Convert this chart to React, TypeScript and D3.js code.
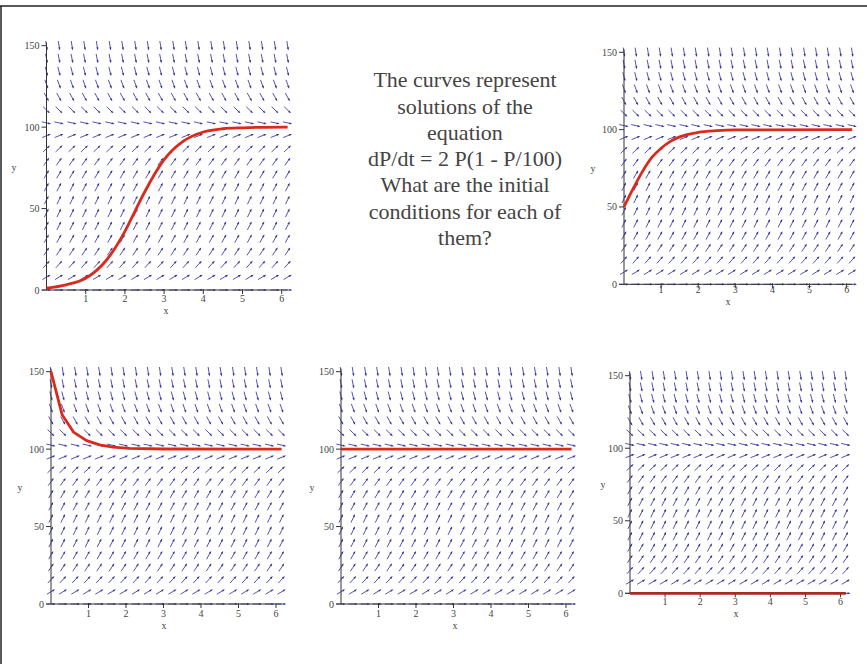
import React, { useEffect, useRef } from 'react';
import * as d3 from 'd3';

const W = 867;
const H = 664;

// direction field: grid columns (t), grid rows (P) and the slope dP/dt on each row
const fieldT = [0, 0.32, 0.65, 0.97, 1.29, 1.62, 1.94, 2.27, 2.59, 2.91, 3.24, 3.56, 3.88, 4.21, 4.53, 4.86, 5.18, 5.5, 5.83, 6.15];
const fieldP = [0, 7.9, 15.8, 23.7, 31.6, 39.5, 47.4, 55.3, 63.2, 71.1, 78.9, 86.8, 94.7, 102.6, 110.5, 118.4, 126.3, 134.2, 142.1, 150];
const rowSlope = [0, 14.5, 26.6, 36.2, 43.2, 47.8, 49.9, 49.4, 46.5, 41.1, 33.2, 22.9, 10.0, -5.4, -23.3, -43.6, -66.5, -91.8, -119.7, -150];

const xTicks = [1, 2, 3, 4, 5, 6];
const yTicks = [0, 50, 100, 150];

// solution curves
const curveA_t = [0, 0.5, 1, 1.5, 2, 2.25, 2.5, 3, 3.5, 4, 4.5, 5, 5.5, 6.15];
const curveA_P = [1.2, 3.2, 7.2, 17.5, 36, 48, 60, 80, 91.5, 97, 99, 99.6, 99.9, 100];

const curveB_t = [0, 0.25, 0.5, 0.75, 1, 1.25, 1.5, 2, 2.5, 3, 6.15];
const curveB_P = [50, 62, 73, 82, 88, 92.4, 95.3, 98.2, 99.3, 99.8, 100];

const curveC_t = [0, 0.3, 0.6, 0.95, 1.3, 1.65, 2.1, 3, 6.15];
const curveC_P = [150, 122, 111, 105.5, 102.8, 101.3, 100.5, 100.1, 100];

const curveD_t = [0, 6.15];
const curveD_P = [100, 100];

const curveE_t = [0, 6.15];
const curveE_P = [0, 0];

const textLines = [
  'The curves represent',
  'solutions of the',
  'equation',
  'dP/dt = 2 P(1 - P/100)',
  'What are the initial',
  'conditions for each of',
  'them?',
];

const panels = [
  { xr: [46.5, 287.6], yr: [290, 45.7], t: curveA_t, P: curveA_P, curve: d3.curveMonotoneX, color: '#d92a1c', yLabX: 14, xLabX: 166, tickOff: 11.5 },
  { xr: [624, 852.2], yr: [284.3, 52.3], t: curveB_t, P: curveB_P, curve: d3.curveMonotoneX, color: '#d92a1c', yLabX: 593, xLabX: 728, tickOff: 9 },
  { xr: [51, 281.6], yr: [604, 371.7], t: curveC_t, P: curveC_P, curve: d3.curveLinear, color: '#d92a1c', yLabX: 20, xLabX: 164, tickOff: 12.5 },
  { xr: [341, 571.6], yr: [604, 371.7], t: curveD_t, P: curveD_P, curve: d3.curveLinear, color: '#d92a1c', yLabX: 312, xLabX: 455, tickOff: 12.5 },
  { xr: [630, 845.8], yr: [593.3, 375.7], t: curveE_t, P: curveE_P, curve: d3.curveLinear, color: '#a82a20', yLabX: 603, xLabX: 736, tickOff: 11.5 },
];

const App = () => {
  const svgRef = useRef<SVGSVGElement>(null);

  useEffect(() => {
    const svg = d3.select(svgRef.current);
    svg.selectAll('*').remove();

    // slide frame
    svg.append('line').attr('x1', 0).attr('x2', W).attr('y1', 6).attr('y2', 6)
      .attr('stroke', '#222').attr('stroke-width', 1.5);
    svg.append('line').attr('x1', 1).attr('x2', 1).attr('y1', 6).attr('y2', H)
      .attr('stroke', '#222').attr('stroke-width', 1.5);

    panels.forEach((p) => {
      const x = d3.scaleLinear().domain([0, 6.15]).range(p.xr);
      const y = d3.scaleLinear().domain([0, 150]).range(p.yr);
      const g = svg.append('g');
      const ux = x(1) - x(0);
      const uy = y(0) - y(1);
      const L = 9.5;

      // direction field arrows
      const field = g.append('g');
      fieldP.forEach((P, i) => {
        let dx = ux;
        let dy = -rowSlope[i] * uy;
        const n = Math.hypot(dx, dy);
        dx = (dx / n) * L;
        dy = (dy / n) * L;
        const ex = dx / L;
        const ey = dy / L;
        fieldT.forEach((t) => {
          const cx = x(t);
          const cy = y(P);
          const tx = cx + dx / 2;
          const ty = cy + dy / 2;
          field.append('line')
            .attr('x1', cx - dx / 2).attr('y1', cy - dy / 2)
            .attr('x2', tx - ex * 1.5).attr('y2', ty - ey * 1.5)
            .attr('stroke', '#4040a8').attr('stroke-width', 0.9);
          const bx = tx - ex * 3;
          const by = ty - ey * 3;
          field.append('path')
            .attr('d', `M${tx},${ty}L${bx - ey * 1.1},${by + ex * 1.1}L${bx + ey * 1.1},${by - ex * 1.1}Z`)
            .attr('fill', '#34349c');
        });
      });

      // axes
      g.append('line').attr('x1', x(0)).attr('x2', x(0)).attr('y1', y(0)).attr('y2', y(152))
        .attr('stroke', '#333').attr('stroke-width', 1);
      g.append('line').attr('x1', x(0)).attr('x2', x(6.15)).attr('y1', y(0)).attr('y2', y(0))
        .attr('stroke', '#333').attr('stroke-width', 1);

      yTicks.forEach((v) => {
        g.append('line').attr('x1', x(0) - 5).attr('x2', x(0)).attr('y1', y(v)).attr('y2', y(v))
          .attr('stroke', '#333');
        g.append('text').attr('x', x(0) - 7).attr('y', y(v)).attr('dy', '0.35em')
          .attr('text-anchor', 'end').style('font-family', 'Liberation Serif, serif')
          .style('font-size', '10px').style('fill', '#444').text(v);
      });
      xTicks.forEach((v) => {
        g.append('line').attr('x1', x(v)).attr('x2', x(v)).attr('y1', y(0) - 1).attr('y2', y(0) + 4)
          .attr('stroke', '#333');
        g.append('text').attr('x', x(v)).attr('y', y(0) + p.tickOff)
          .attr('text-anchor', 'middle').style('font-family', 'Liberation Serif, serif')
          .style('font-size', '10px').style('fill', '#444').text(v);
      });

      g.append('text').attr('x', p.yLabX).attr('y', (y(0) + y(150)) / 2).attr('dy', '0.35em')
        .attr('text-anchor', 'middle').style('font-family', 'Liberation Serif, serif')
        .style('font-size', '10px').style('fill', '#444').text('y');
      g.append('text').attr('x', p.xLabX).attr('y', y(0) + p.tickOff + 12)
        .attr('text-anchor', 'middle').style('font-family', 'Liberation Serif, serif')
        .style('font-size', '10px').style('fill', '#444').text('x');

      // solution curve
      const pts = p.t.map((t, i) => [t, p.P[i]] as [number, number]);
      const line = d3.line<[number, number]>()
        .x((d) => x(d[0]))
        .y((d) => y(d[1]))
        .curve(p.curve);
      g.append('path').attr('d', line(pts))
        .attr('fill', 'none').attr('stroke', p.color).attr('stroke-width', 2.8)
        .attr('stroke-linejoin', 'round');
    });

    // question text
    const baselines = [86.5, 113.5, 140, 166, 192, 218.5, 245];
    svg.append('g').selectAll('text').data(textLines).enter().append('text')
      .attr('x', 465)
      .attr('y', (d, i) => baselines[i])
      .attr('text-anchor', 'middle')
      .style('font-family', 'Liberation Serif, serif')
      .style('font-size', '22px')
      .style('fill', '#444')
      .text((d) => d);
  }, []);

  return (
    <svg
      ref={svgRef}
      width={W}
      height={H}
      style={{ position: 'absolute', left: 0, top: 0, background: '#fff' }}
    ></svg>
  );
};

export default App;
